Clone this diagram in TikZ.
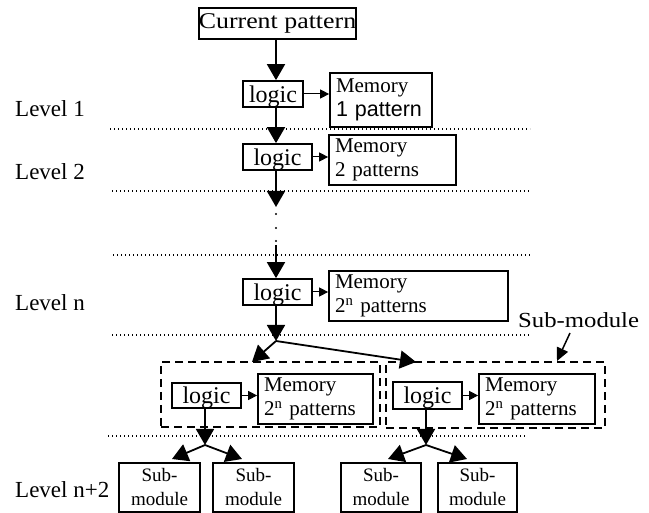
\documentclass[tikz,border=0pt]{standalone}
\usepackage{fontspec}
\setmainfont{Liberation Serif}
\newfontfamily\sansf{Liberation Sans}
\newfontfamily\widef[FakeStretch=1.15]{Liberation Serif}
\usetikzlibrary{arrows.meta}
\begin{document}
\begin{tikzpicture}[x=1pt,y=-1pt,
  box/.style={draw, line width=1.7pt, inner sep=0pt},
  logicbox/.style={box, minimum height=26pt, text height=17pt, text depth=0pt, font=\fontsize{24}{24}\selectfont},
  membox/.style={box, align=left, inner xsep=6pt, font=\fontsize{21}{24}\selectfont},
  subbox/.style={box, minimum height=49pt, align=center, font=\fontsize{19}{24}\selectfont},
  dbox/.style={draw, line width=1.7pt, dash pattern=on 8pt off 5pt, inner sep=0pt},
  level/.style={anchor=base west, inner sep=0pt, font=\fontsize{23}{24}\selectfont},
  sep/.style={line width=1.3pt, dash pattern=on 1.3pt off 2.7pt},
  big/.style={line width=1.8pt, -{Triangle[length=16pt,width=18pt]}},
  small/.style={line width=1pt, -{Triangle[length=9pt,width=9pt]}},
  plain/.style={line width=1.8pt}]
\useasboundingbox (0,0) rectangle (649,513);

% level labels
\node[level] (lv1) at (15,117) {Level 1};
\node[level] (lv2) at (15,180) {Level 2};
\node[level] (lvn) at (15,311) {Level n};
\node[level] (lvn2) at (15,498) {Level n+2};

% separators
\coordinate (d1a) at (110,129); \coordinate (d1b) at (530,129);
\coordinate (d2a) at (112,191); \coordinate (d2b) at (530,191);
\coordinate (d3a) at (113,255); \coordinate (d3b) at (532,255);
\coordinate (d4a) at (112,335); \coordinate (d4b) at (529,335);
\coordinate (d5a) at (108,436); \coordinate (d5b) at (526,436);
\draw[sep] (d1a) -- (d1b);
\draw[sep] (d2a) -- (d2b);
\draw[sep] (d3a) -- (d3b);
\draw[sep] (d4a) -- (d4b);
\draw[sep] (d5a) -- (d5b);

% top chain
\node[box, minimum width=151pt, minimum height=31pt, font=\widef\fontsize{22.5}{24}\selectfont] (cp) at (277.5,23.5) {Current pattern};
\node[logicbox, minimum width=60pt] (l1) at (273,94) {logic};
\node[membox, minimum height=54pt, text width=90pt] (m1) at (381,100) {Memory\\{\sansf\fontsize{21.5}{24}\selectfont 1 pattern}};
\node[logicbox, minimum width=69pt] (l2) at (277.5,157) {logic};
\node[membox, minimum height=50pt, text width=115pt] (m2) at (392.5,160) {Memory\\2 patterns};
\node[logicbox, minimum width=69pt] (l3) at (277.5,292) {logic};
\node[membox, minimum height=50pt, text width=167pt] (m3) at (418.5,296) {Memory\\2\textsuperscript{n} patterns};

\coordinate (ax) at (276,0);
\draw[big] (cp.south -| ax) -- (l1.north -| ax);
\draw[small] (l1.east) -- (l1.east -| m1.west);
\draw[big] (l1.south -| ax) -- (l2.north -| ax);
\draw[small] (l2.east) -- (l2.east -| m2.west);
\coordinate (gapa) at (276,207);
\coordinate (gapb) at (276,245);
\draw[big] (l2.south -| ax) -- (gapa);
\fill (276,214) circle (1.1pt) (276,228) circle (1.1pt) (276,241) circle (1.1pt);
\draw[big] (gapb) -- (l3.north -| ax);
\draw[small] (l3.east) -- (l3.east -| m3.west);

% branch to sub-modules
\coordinate (br) at (276,341);
\draw[big] (l3.south -| ax) -- (br);
\coordinate (tl) at (252,362);
\coordinate (tr) at (416,362);
\draw[big] (br) -- (tl);
\draw[big] (br) -- (tr);

\node[dbox, minimum width=219pt, minimum height=65pt] (dl) at (270.5,394.5) {};
\node[dbox, minimum width=219pt, minimum height=66pt] (dr) at (495.5,395) {};

\node[logicbox, minimum width=69pt, minimum height=25pt] (ll) at (206.5,395.5) {logic};
\node[membox, minimum height=50pt, text width=103pt] (ml) at (315.5,399) {Memory\\2\textsuperscript{n} patterns};
\node[logicbox, minimum width=69pt, minimum height=27pt] (lr) at (427.5,395.5) {logic};
\node[membox, minimum height=50pt, text width=104pt] (mr) at (537,399) {Memory\\2\textsuperscript{n} patterns};
\draw[small] (ll.east) -- (ll.east -| ml.west);
\draw[small] (lr.east) -- (lr.east -| mr.west);

% sub-module label
\node[anchor=base west, inner sep=0pt, font=\widef\fontsize{21.5}{24}\selectfont] (sml) at (518,328) {Sub-module};
\coordinate (smf) at (570,333);
\coordinate (smt) at (557,361);
\draw[line width=1.5pt, -{Triangle[length=13pt,width=12pt]}] (smf) -- (smt);

% level n+2
\node[subbox, minimum width=81pt] (s1) at (159.5,487.5) {Sub-\\module};
\node[subbox, minimum width=81pt] (s2) at (253.5,487.5) {Sub-\\module};
\node[subbox, minimum width=80pt] (s3) at (381,487.5) {Sub-\\module};
\node[subbox, minimum width=79pt] (s4) at (477.5,487.5) {Sub-\\module};

\coordinate (bl) at (205,445);
\coordinate (brr) at (426,445);
\draw[big] (ll.south -| bl) -- (bl);
\draw[big] (lr.south -| brr) -- (brr);
\coordinate (t1) at (172,459);
\coordinate (t2) at (242,459);
\coordinate (t3) at (388,459);
\coordinate (t4) at (467,459);
\draw[big] (bl) -- (t1);
\draw[big] (bl) -- (t2);
\draw[big] (brr) -- (t3);
\draw[big] (brr) -- (t4);
\end{tikzpicture}
\end{document}
